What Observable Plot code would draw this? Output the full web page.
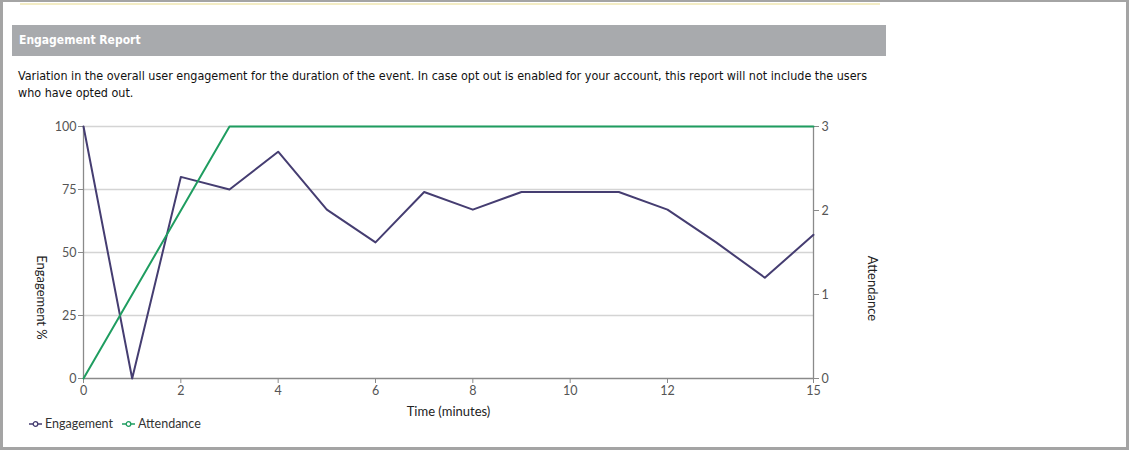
<!DOCTYPE html>
<html>
<head>
<meta charset="utf-8">
<script src="https://cdn.jsdelivr.net/npm/d3@7"></script>
<script src="https://cdn.jsdelivr.net/npm/@observablehq/plot@0.6"></script>
<style>
  html, body { margin: 0; padding: 0; background: #fff; }
  #page { position: relative; width: 1129px; height: 450px; overflow: hidden; background: #fff; }
  #frame { position: absolute; left: 0; top: 0; width: 1129px; height: 450px; box-sizing: border-box; border: 3px solid #a4a4a4; border-top-width: 2px; pointer-events: none; }
  #topline { position: absolute; left: 20px; top: 3px; width: 860px; height: 2px; background: #f3ecc4; }
  #header { position: absolute; left: 12px; top: 25px; width: 874px; height: 31px; background: #a8aaad; }
  #header span { position: absolute; left: 7px; top: 8px; color: #fff; font: bold 12px "DejaVu Sans Condensed", "DejaVu Sans", sans-serif; }
  #desc { position: absolute; left: 18px; top: 67px; color: #111; font: 12.45px/17px "DejaVu Sans Condensed", "DejaVu Sans", sans-serif; white-space: nowrap; }
  #chart { position: absolute; left: 0; top: 110px; }
  #legend { position: absolute; left: 29px; top: 416px; font: 12.5px Lato, "Open Sans", sans-serif; color: #333; display: flex; align-items: center; }
  #legend .item { display: flex; align-items: center; margin-right: 9px; }
  #legend svg { margin-right: 3px; }
</style>
</head>
<body>
<div id="page">
  <div id="topline"></div>
  <div id="header"><span>Engagement Report</span></div>
  <div id="desc">Variation in the overall user engagement for the duration of the event. In case opt out is enabled for your account, this report will not include the users<br>who have opted out.</div>
  <div id="chart"></div>
  <div id="legend"></div>
  <div id="frame"></div>
</div>
<script>
// ---- data ----
const minutes = [0, 1, 2, 3, 4, 5, 6, 7, 8, 9, 10, 11, 12, 13, 14, 15];
const engagement = [100, 0, 80, 75, 90, 67, 54, 74, 67, 74, 74, 74, 67, 54, 40, 57];
const attendance = [0, 1, 2, 3, 3, 3, 3, 3, 3, 3, 3, 3, 3, 3, 3, 3];
const xTicks = [0, 2, 4, 6, 8, 10, 12, 15];
const engagementTicks = [0, 25, 50, 75, 100];
const attendanceTicks = [0, 1, 2, 3];
const seriesNames = ["Engagement", "Attendance"];
const seriesColors = ["#453d71", "#1f9d60"];

const attMax = 3;
const toLeft = v => v * 100 / attMax;

const engData = minutes.map((m, i) => ({ m, v: engagement[i] }));
const attData = minutes.map((m, i) => ({ m, v: toLeft(attendance[i]) }));

const font = "Lato, 'Open Sans', sans-serif";

const chart = Plot.plot({
  width: 900,
  height: 320,
  marginLeft: 83,
  marginRight: 87,
  marginTop: 16,
  marginBottom: 52,
  style: { fontFamily: font, fontSize: "12px", color: "#555", background: "transparent", overflow: "visible" },
  x: { domain: [0, 15], ticks: xTicks },
  y: { domain: [0, 100] },
  marks: [
    Plot.gridY(engagementTicks.filter(t => t > 0), { stroke: "#d4d4d4", strokeOpacity: 1, strokeWidth: 1.3 }),
    Plot.axisY(engagementTicks, { anchor: "left", tickSize: 5, tickPadding: 2, label: null, stroke: "#8a8a8a", fill: "#555", fontSize: 12.5 }),
    Plot.axisY(attendanceTicks.map(toLeft), { anchor: "right", tickSize: 5, tickPadding: 3, label: null, stroke: "#8a8a8a", fill: "#555", fontSize: 12.5, tickFormat: d => String(Math.round(d * attMax / 100)) }),
    Plot.axisX(xTicks, { tickSize: 5, tickPadding: 3, label: null, stroke: "#8a8a8a", fill: "#555", fontSize: 12.5 }),
    Plot.ruleY([0], { stroke: "#8a8a8a", strokeWidth: 1.3 }),
    Plot.ruleX([0], { stroke: "#8a8a8a", strokeWidth: 1.3 }),
    Plot.ruleX([15], { stroke: "#8a8a8a", strokeWidth: 1.3 }),
    Plot.line(engData, { x: "m", y: "v", stroke: seriesColors[0], strokeWidth: 2 }),
    Plot.line(attData, { x: "m", y: "v", stroke: seriesColors[1], strokeWidth: 2 }),
    Plot.text(["Time (minutes)"], { frameAnchor: "bottom", dy: 37, fill: "#222", fontSize: 13 }),
    Plot.text(["Engagement %"], { frameAnchor: "left", textAnchor: "middle", dx: -42, dy: 45, rotate: 90, fill: "#222", fontSize: 13 }),
    Plot.text(["Attendance"], { frameAnchor: "right", textAnchor: "middle", dx: 59, dy: 36, rotate: 90, fill: "#222", fontSize: 13 })
  ]
});
document.getElementById("chart").appendChild(chart);

// legend
const legend = document.getElementById("legend");
seriesNames.forEach((name, i) => {
  const item = document.createElement("div");
  item.className = "item";
  item.innerHTML = `<svg width="13" height="8"><line x1="0" y1="4" x2="13" y2="4" stroke="${seriesColors[i]}" stroke-width="1.5"/><circle cx="6.5" cy="4" r="2.3" fill="#fff" stroke="${seriesColors[i]}" stroke-width="1.3"/></svg><span>${name}</span>`;
  legend.appendChild(item);
});
</script>
</body>
</html>
